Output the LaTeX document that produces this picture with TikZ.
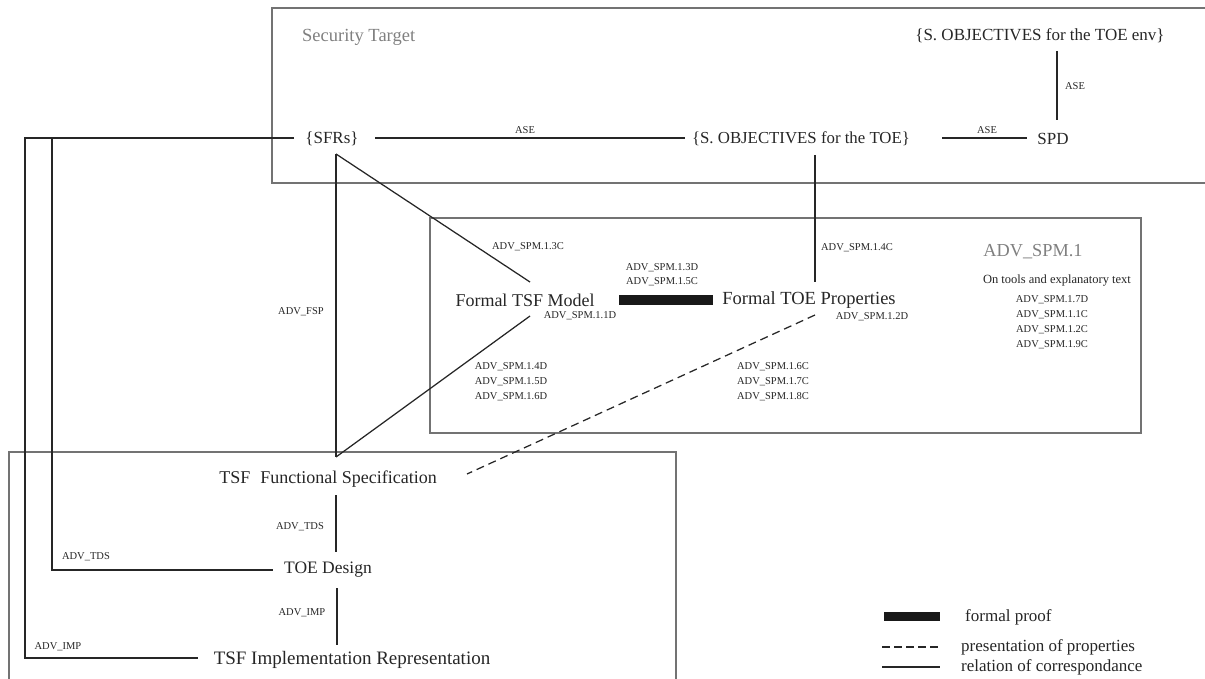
\documentclass[tikz,border=0pt]{standalone}
\usepackage{fontspec}
\setmainfont{Liberation Serif}
\begin{document}
\begin{tikzpicture}[x=1pt,y=-1pt,
  main/.style={font=\fontsize{17}{19}\selectfont, inner sep=0pt, text=black!85},
  lbl/.style={font=\fontsize{10.5}{12}\selectfont, inner sep=0pt, text=black!85},
  grey/.style={inner sep=0pt, text=black!50},
  frame/.style={draw=black!55, line width=1.7pt},
  conn/.style={draw=black!85, line width=1.25pt},
  dashline/.style={draw=black!85, line width=1.25pt, dash pattern=on 8pt off 5pt},
  bar/.style={fill=black!90, draw=none}]
\useasboundingbox (0,0) rectangle (1205,679);
% frames
\draw[frame] (1206,8) -- (272,8) -- (272,183) -- (1206,183);
\draw[frame] (430,218) rectangle (1141,433);
\draw[frame] (9,690) -- (9,452) -- (676,452) -- (676,690);
% titles
\node[grey, font=\fontsize{18.5}{20}\selectfont, anchor=west] (st) at (302,37) {Security Target};
\node[grey, font=\fontsize{18.3}{20}\selectfont] (spm) at (1033,252) {ADV\_SPM.1};
% main nodes
\node[main] (sfrs) at (332,139) {\{SFRs\}};
\node[main, font=\fontsize{16.8}{19}\selectfont] (soe) at (801,139) {\{S. OBJECTIVES for the TOE\}};
\node[main] (spd) at (1053,139) {SPD};
\node[main] (env) at (1040,36) {\{S. OBJECTIVES for the TOE env\}};
\node[main, font=\fontsize{18}{20}\selectfont] (tsfm) at (525,300) {Formal TSF Model};
\node[main, font=\fontsize{18.5}{20}\selectfont] (toep) at (809,300) {Formal TOE Properties};
\node[main, font=\fontsize{18}{20}\selectfont] (fs) at (328,479) {TSF\hspace{10pt}Functional Specification};
\node[main, font=\fontsize{17.5}{19}\selectfont] (design) at (328,570) {TOE Design};
\node[main, font=\fontsize{19}{21}\selectfont] (impl) at (352,660) {TSF Implementation Representation};
% coordinates
\coordinate (a1) at (375,138); \coordinate (a2) at (685,138);
\coordinate (b1) at (942,138); \coordinate (b2) at (1027,138);
\coordinate (c1) at (1057,51); \coordinate (c2) at (1057,120);
\coordinate (s0) at (294,138); \coordinate (s1) at (25,138); \coordinate (s2) at (25,658); \coordinate (s3) at (198,658);
\coordinate (t1) at (52,138); \coordinate (t2) at (52,570); \coordinate (t3) at (273,570);
\coordinate (f0) at (336,154); \coordinate (f1) at (336,457);
\coordinate (m1) at (530,282); \coordinate (m2) at (530,316);
\coordinate (p1) at (815,315); \coordinate (p2) at (467,474);
\coordinate (o1) at (815,155); \coordinate (o2) at (815,282);
\coordinate (d1) at (336,495); \coordinate (d2) at (336,552);
\coordinate (i1) at (337,588); \coordinate (i2) at (337,645);
% connectors
\draw[conn] (a1) -- (a2);
\draw[conn] (b1) -- (b2);
\draw[conn] (c1) -- (c2);
\draw[conn] (s0) -- (s1) -- (s2) -- (s3);
\draw[conn] (t1) -- (t2) -- (t3);
\draw[conn] (f0) -- (f1);
\draw[conn] (f0) -- (m1);
\draw[conn] (m2) -- (f1);
\draw[dashline] (p1) -- (p2);
\draw[conn] (o1) -- (o2);
\draw[conn] (d1) -- (d2);
\draw[conn] (i1) -- (i2);
\fill[bar] (619,295) rectangle (713,305);
% labels
\node[lbl] (l1) at (525,130) {ASE};
\node[lbl] (l2) at (987,130) {ASE};
\node[lbl] (l3) at (1075,86) {ASE};
\node[lbl] (l4) at (301,312) {ADV\_FSP};
\node[lbl] (l5) at (528,247) {ADV\_SPM.1.3C};
\node[lbl, align=center] (l6) at (662,275) {ADV\_SPM.1.3D\\[2pt]ADV\_SPM.1.5C};
\node[lbl] (l7) at (857,248) {ADV\_SPM.1.4C};
\node[lbl] (l8) at (580,316) {ADV\_SPM.1.1D};
\node[lbl] (l9) at (872,317) {ADV\_SPM.1.2D};
\node[lbl, align=center] (l10) at (511,382) {ADV\_SPM.1.4D\\[3pt]ADV\_SPM.1.5D\\[3pt]ADV\_SPM.1.6D};
\node[lbl, align=center] (l11) at (773,382) {ADV\_SPM.1.6C\\[3pt]ADV\_SPM.1.7C\\[3pt]ADV\_SPM.1.8C};
\node[lbl, font=\fontsize{12.5}{14}\selectfont] (l12) at (1057,281) {On tools and explanatory text};
\node[lbl, align=center] (l13) at (1052,322) {ADV\_SPM.1.7D\\[3pt]ADV\_SPM.1.1C\\[3pt]ADV\_SPM.1.2C\\[3pt]ADV\_SPM.1.9C};
\node[lbl] (l14) at (300,527) {ADV\_TDS};
\node[lbl] (l15) at (86,557) {ADV\_TDS};
\node[lbl] (l16) at (302,613) {ADV\_IMP};
\node[lbl] (l17) at (58,647) {ADV\_IMP};
% legend
\coordinate (g1) at (882,647); \coordinate (g2) at (940,647);
\coordinate (h1) at (882,667); \coordinate (h2) at (940,667);
\fill[bar] (884,612) rectangle (940,621);
\draw[dashline, dash pattern=on 8pt off 4pt] (g1) -- (g2);
\draw[conn] (h1) -- (h2);
\node[main, font=\fontsize{17}{18}\selectfont, anchor=west] (k1) at (965,617) {formal proof};
\node[main, font=\fontsize{17}{18}\selectfont, anchor=west] (k2) at (961,647) {presentation of properties};
\node[main, font=\fontsize{17}{18}\selectfont, anchor=west] (k3) at (961,667) {relation of correspondance};
\end{tikzpicture}
\end{document}
